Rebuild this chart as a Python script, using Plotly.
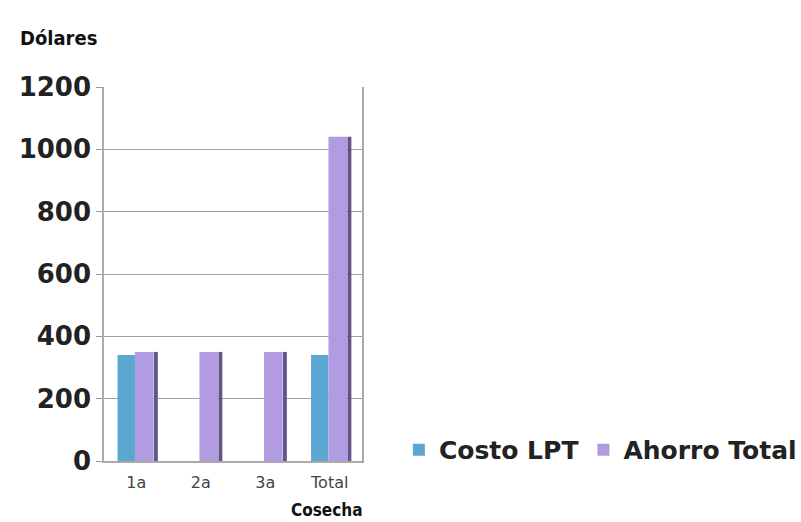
import plotly.graph_objects as go

categories = ["1a", "2a", "3a", "Total"]
costo_lpt = [340, 0, 0, 340]
ahorro_total = [350, 350, 350, 1040]
y_ticks = [0, 200, 400, 600, 800, 1000, 1200]

fig = go.Figure()
fig.add_trace(go.Bar(x=categories, y=costo_lpt, name="Costo LPT",
                     marker=dict(color="#5BA7D2", line=dict(width=0)),
                     width=0.27, offset=-0.29))
fig.add_trace(go.Bar(x=categories, y=ahorro_total, name="Ahorro Total",
                     marker=dict(color="#B19BE1", line=dict(width=0)),
                     width=0.29, offset=-0.02))
fig.add_trace(go.Bar(x=categories, y=ahorro_total, name="side",
                     marker=dict(color="#625688", line=dict(width=0)),
                     width=0.06, offset=0.275, showlegend=False, hoverinfo="skip"))

fig.update_layout(
    barmode="overlay",
    width=801, height=522,
    margin=dict(l=104, r=439, t=87, b=61, autoexpand=False),
    plot_bgcolor="white", paper_bgcolor="white",
    font=dict(family="DejaVu Sans", color="#222"),
    showlegend=True,
    legend=dict(orientation="h", xref="paper", yref="paper",
                x=2.705, y=-0.032, xanchor="right", yanchor="bottom",
                font=dict(size=25, family="DejaVu Sans", color="#222", weight="bold"),
                traceorder="normal"),
    xaxis=dict(showgrid=False, showline=True, linecolor="#AAAAAA", linewidth=2,
               mirror=False, tickfont=dict(size=16, color="#444"),
               ticks="", range=[-0.5, 3.5], automargin=False, ticklabelstandoff=6),
    yaxis=dict(range=[0, 1200], tickvals=y_ticks, showgrid=True, gridcolor="#A0A0A0",
               gridwidth=1, showline=True, linecolor="#AAAAAA", linewidth=1.5, mirror=True,
               ticks="outside", ticklen=6, tickcolor="#999", automargin=False,
               tickfont=dict(size=26, color="#222", weight="bold"), zeroline=False),
    annotations=[
        dict(text="<b>Dólares</b>", xref="paper", yref="paper", x=-0.335, y=1.13,
             xanchor="left", yanchor="middle", showarrow=False,
             font=dict(size=20, family="DejaVu Sans Condensed", color="#111")),
        dict(text="<b>Cosecha</b>", xref="paper", yref="paper", x=1.01, y=-0.13,
             xanchor="right", yanchor="middle", showarrow=False,
             font=dict(size=17, family="DejaVu Sans Condensed", color="#111")),
    ],
)
fig.write_html("out.html", config={"displayModeBar": False},
               post_script="document.body.style.margin='0';")
